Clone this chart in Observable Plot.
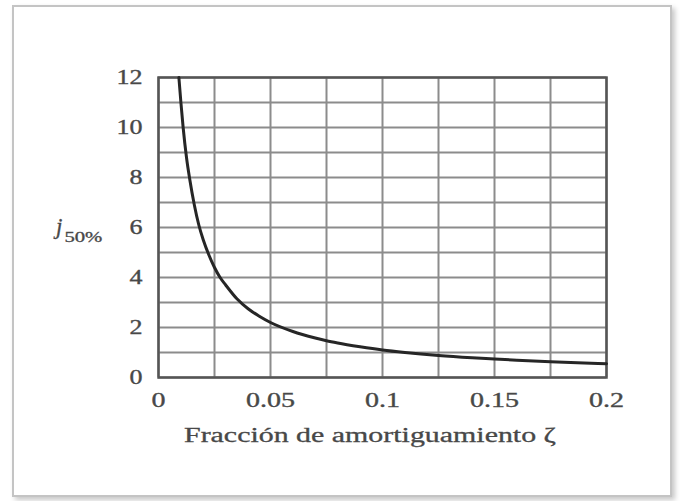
<!DOCTYPE html>
<html>
<head>
<meta charset="utf-8">
<script src="https://cdn.jsdelivr.net/npm/d3@7"></script>
<script src="https://cdn.jsdelivr.net/npm/@observablehq/plot@0.6"></script>
<style>
  html, body { margin: 0; padding: 0; background: #fff; width: 680px; height: 501px; overflow: hidden; }
  #box { position: absolute; left: 12px; top: 5px; width: 656px; height: 488px; border: 2px solid #c4c4c4; box-shadow: 3px 3px 5px rgba(0,0,0,0.22); background: #fff; }
  #chart { position: absolute; left: 0; top: 0; }
</style>
</head>
<body>
<div id="box"></div>
<div id="chart"></div>
<script>
// damping fraction ζ
const zeta = [0.0091, 0.0100, 0.0110, 0.0125, 0.0140, 0.0160, 0.0180, 0.0200, 0.0225, 0.0250, 0.0275, 0.0300, 0.0350, 0.0400, 0.0450, 0.0500, 0.0600, 0.0700, 0.0750, 0.0800, 0.0900, 0.1000, 0.1100, 0.1250, 0.1400, 0.1500, 0.1600, 0.1750, 0.1900, 0.2000];
// j50% values
const j50 = [12.0, 11.0, 10.0, 8.8, 7.9, 6.9, 6.1, 5.5, 4.9, 4.4, 4.0, 3.7, 3.15, 2.75, 2.45, 2.2, 1.84, 1.58, 1.47, 1.38, 1.23, 1.1, 1.0, 0.88, 0.79, 0.74, 0.69, 0.63, 0.58, 0.55];

const xTickLabels = [0, 0.05, 0.1, 0.15, 0.2];
const yTickLabels = [0, 2, 4, 6, 8, 10, 12];
const xGrid = [0, 0.025, 0.05, 0.075, 0.1, 0.125, 0.15, 0.175, 0.2];
const yGrid = [0, 1, 2, 3, 4, 5, 6, 7, 8, 9, 10, 11, 12];

const xLabel = "Fracción de amortiguamiento ζ";
const yLabelMain = "j";
const yLabelSub = "50%";

const data = zeta.map((z, i) => ({ z, j: j50[i] }));
const serif = "'Liberation Serif', 'Times New Roman', serif";
const ink = "#484848";

const chart = Plot.plot({
  width: 680,
  height: 501,
  marginLeft: 158,
  marginRight: 74,
  marginTop: 77,
  marginBottom: 124,
  style: { background: "transparent", fontFamily: serif, color: ink },
  x: { domain: [0, 0.2], label: null },
  y: { domain: [0, 12], label: null },
  marks: [
    Plot.ruleX(xGrid, { stroke: "#8c8c8c", strokeWidth: 2 }),
    Plot.ruleY(yGrid, { stroke: "#8c8c8c", strokeWidth: 2 }),
    Plot.frame({ stroke: "#555", strokeWidth: 2.5 }),
    Plot.line(data, { x: "z", y: "j", curve: "monotone-x", stroke: "#262626", strokeWidth: 3 }),
    Plot.axisX({ ticks: xTickLabels, tickFormat: d => String(d), tickSize: 0, tickPadding: 15, fontSize: 20, label: null }),
    Plot.axisY({ ticks: yTickLabels, tickSize: 0, tickPadding: 16, fontSize: 20, label: null })
  ]
});
document.getElementById("chart").appendChild(chart);

const svg = d3.select(chart);

// widen glyphs like the stretched reference
function stretch(sel, k) {
  sel.each(function () {
    const w = this.getComputedTextLength();
    d3.select(this).attr("textLength", w * k).attr("lengthAdjust", "spacingAndGlyphs");
  });
}
stretch(svg.selectAll('g[aria-label="x-axis tick label"] text'), 1.4);
stretch(svg.selectAll('g[aria-label="y-axis tick label"] text'), 1.3);
svg.selectAll('g[aria-label="x-axis tick label"], g[aria-label="y-axis tick label"]')
  .attr("stroke", ink).attr("stroke-width", 0.35);

const xl = svg.append("text")
  .attr("x", 370).attr("y", 442)
  .attr("text-anchor", "middle")
  .attr("font-family", serif)
  .attr("font-size", 20)
  .attr("fill", ink)
  .attr("stroke", ink).attr("stroke-width", 0.3)
  .text(xLabel);
xl.attr("textLength", 372).attr("lengthAdjust", "spacingAndGlyphs");

const yl = svg.append("text")
  .attr("x", 56).attr("y", 234)
  .attr("text-anchor", "start")
  .attr("font-family", serif)
  .attr("fill", ink)
  .attr("stroke", ink).attr("stroke-width", 0.3);
yl.append("tspan").attr("font-size", 23).attr("font-style", "italic").text(yLabelMain);
const sub = yl.append("tspan").attr("font-size", 14).attr("dy", 8).attr("dx", 2).text(yLabelSub);
sub.attr("textLength", 38).attr("lengthAdjust", "spacingAndGlyphs");
</script>
</body>
</html>
